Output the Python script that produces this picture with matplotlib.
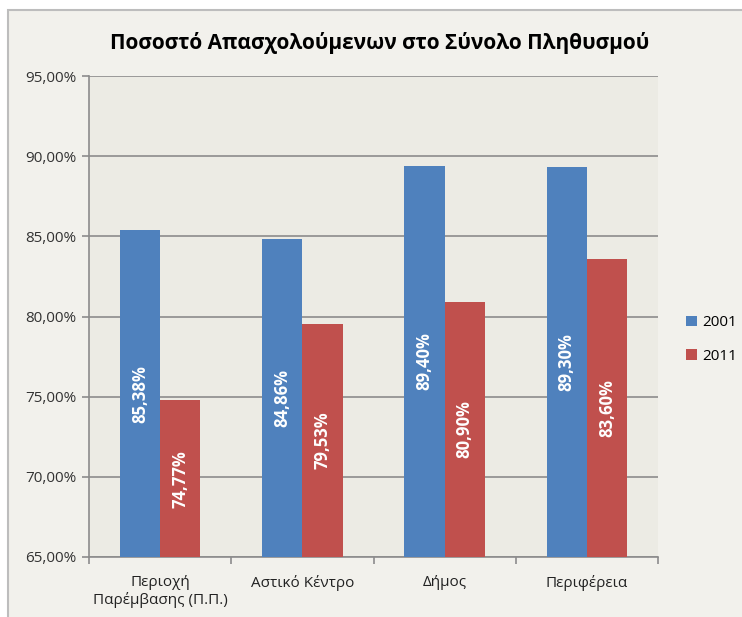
import numpy as np
import matplotlib
matplotlib.use('Agg')
import matplotlib.pyplot as plt
from matplotlib.patches import Rectangle

plt.rcParams['font.family'] = ['Open Sans', 'DejaVu Sans']

TITLE = 'Ποσοστό Απασχολούμενων στο Σύνολο Πληθυσμού'
categories = ['Περιοχή\nΠαρέμβασης (Π.Π.)', 'Αστικό Κέντρο', 'Δήμος', 'Περιφέρεια']
series_names = ['2001', '2011']
values_2001 = [85.38, 84.86, 89.40, 89.30]
values_2011 = [74.77, 79.53, 80.90, 83.60]
y_ticks = [65, 70, 75, 80, 85, 90, 95]

BLUE, RED = '#4F81BD', '#C0504D'


def fmt(v):
    return ('%.2f%%' % v).replace('.', ',')


fig = plt.figure(figsize=(7.42, 6.17), dpi=100)
fig.patch.set_facecolor('white')
# chart area frame
fig.patches.append(Rectangle((8 / 742, -0.05), 1.0, 1 - 10 / 617 + 0.05,
                             transform=fig.transFigure, facecolor='#F2F1EC',
                             edgecolor='#BDBDBD', linewidth=1.5, zorder=-5))

ax = fig.add_axes([89 / 742, 1 - 557 / 617, (658 - 89) / 742, (557 - 76) / 617])
ax.set_facecolor('#ECEBE4')

x = np.arange(len(categories))
w = 0.283
ax.set_axisbelow(True)
ax.yaxis.grid(True, color='#8C8C8C', linewidth=1.2)

for vals, off, col, name in [(values_2001, -w / 2, BLUE, series_names[0]),
                             (values_2011, w / 2, RED, series_names[1])]:
    bottom = y_ticks[0]
    heights = [v - bottom for v in vals]
    ax.bar(x + off, heights, w, bottom=bottom, color=col, label=name, zorder=3)
    for xi, v in zip(x + off, vals):
        ax.text(xi, (bottom + v) / 2, fmt(v), rotation=90, ha='center', va='center',
                color='white', fontsize=12, fontweight='bold', zorder=4)

ax.set_xlim(-0.5, len(categories) - 0.5)
ax.set_ylim(y_ticks[0], y_ticks[-1])
ax.set_yticks(y_ticks)
ax.set_yticklabels([fmt(t) for t in y_ticks], fontsize=11, color='#333333')
ax.set_xticks(x)
ax.set_xticklabels(categories, fontsize=11, color='#222222')
ax.set_xticks(np.arange(len(categories) + 1) - 0.5, minor=True)
ax.tick_params(axis='x', which='major', length=0, pad=13)
ax.tick_params(axis='x', which='minor', length=5, color='#8C8C8C', width=1.2)
ax.tick_params(axis='y', length=5, color='#8C8C8C', width=1.2, pad=4)

for s in ['top', 'right']:
    ax.spines[s].set_visible(False)
for s in ['left', 'bottom']:
    ax.spines[s].set_color('#8C8C8C')
    ax.spines[s].set_linewidth(1.2)

fig.text(380 / 742, 1 - 43 / 617, TITLE, ha='center', va='center',
         fontsize=15, fontweight='bold', color='black')

ax.legend(loc='center left', bbox_to_anchor=(1.039, 0.452), frameon=False,
          fontsize=11, handlelength=0.7, handleheight=0.7, labelspacing=1.2,
          handletextpad=0.35, borderaxespad=0)

fig.savefig('out.png', dpi=100, facecolor=fig.get_facecolor())
